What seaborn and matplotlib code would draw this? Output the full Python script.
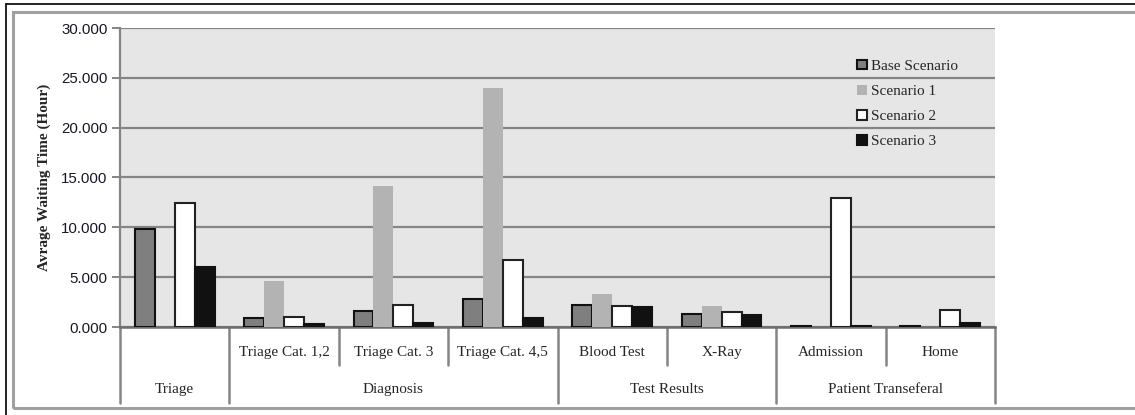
import numpy as np
import pandas as pd
import seaborn as sns
import matplotlib.pyplot as plt
from matplotlib.lines import Line2D
from matplotlib.patches import Rectangle
from matplotlib.ticker import FuncFormatter

# Data (hours)
items = ['Triage', 'Triage Cat. 1,2', 'Triage Cat. 3', 'Triage Cat. 4,5',
         'Blood Test', 'X-Ray', 'Admission', 'Home']
groups = ['Triage', 'Diagnosis', 'Test Results', 'Patient Transeferal']
group_sizes = [1, 3, 2, 2]
scenarios = ['Base Scenario', 'Scenario 1', 'Scenario 2', 'Scenario 3']

base = [9.83, 0.90, 1.60, 2.80, 2.20, 1.30, 0.15, 0.15]
scen1 = [0.0, 4.60, 14.10, 24.00, 3.30, 2.10, 0.0, 0.0]
scen2 = [12.44, 1.00, 2.20, 6.70, 2.10, 1.50, 12.90, 1.70]
scen3 = [6.00, 0.30, 0.40, 0.90, 2.00, 1.20, 0.10, 0.40]

df = pd.DataFrame({
    'item': items * 4,
    'hours': base + scen1 + scen2 + scen3,
    'scenario': np.repeat(scenarios, len(items)),
})

fills = ['#7f7f7f', '#b3b3b3', '#ffffff', '#111111']
edges = ['#111111', '#b3b3b3', '#222222', '#111111']
edge_w = [1.5, 0, 1.5, 1.5]

serif = 'Liberation Serif'
grid_c = '#858585'

sns.set_style('white')
fig = plt.figure(figsize=(11.35, 4.15), dpi=100)
ax = fig.add_axes([120 / 1135, 1 - 327 / 415, 875 / 1135, 299 / 415])
ax.set_facecolor('#e6e6e6')

sns.barplot(data=df, x='item', y='hours', hue='scenario', order=items,
            hue_order=scenarios, palette=fills, saturation=1, width=0.73,
            legend=False, ax=ax, zorder=3)

for cont, ec, lw in zip(ax.containers, edges, edge_w):
    for p in cont.patches:
        p.set_edgecolor(ec)
        p.set_linewidth(lw)

ax.set_ylim(0, 30)
ax.set_xlim(-0.5, len(items) - 0.5)
ax.set_yticks(np.arange(0, 31, 5))
ax.yaxis.set_major_formatter(FuncFormatter(lambda v, _: f'{v:.3f}'))
ax.grid(axis='y', color=grid_c, linewidth=1.6, zorder=0)
ax.set_axisbelow(True)
ax.tick_params(axis='y', length=6, width=1.4, color=grid_c, pad=3,
               labelsize=10.8, labelcolor='#161626', left=True)
for lab in ax.get_yticklabels():
    lab.set_family('Liberation Sans')
ax.set_xticks([])
ax.set_xlabel('')
ax.set_ylabel('Avrage Waiting Time (Hour)', fontfamily=serif, fontweight='bold',
              fontsize=11, labelpad=7)

for s in ['top', 'right']:
    ax.spines[s].set_visible(False)
ax.spines['left'].set_color(grid_c)
ax.spines['left'].set_linewidth(1.6)
ax.spines['bottom'].set_color('#6e6e6e')
ax.spines['bottom'].set_linewidth(1.8)

# category table below the axis
trans = ax.get_xaxis_transform()
row1 = -38 / 299
row2 = -76 / 299
edges_x = np.cumsum([0] + group_sizes) - 0.5
for xb in edges_x:
    ax.add_line(Line2D([xb, xb], [0, row2], transform=trans, color=grid_c,
                       lw=1.8, clip_on=False))
start = 0
for g, n in zip(groups, group_sizes):
    for k in range(1, n):
        xb = start + k - 0.5
        ax.add_line(Line2D([xb, xb], [0, row1], transform=trans, color=grid_c,
                           lw=1.8, clip_on=False))
    ax.text(start + (n - 1) / 2, -62 / 299, g, transform=trans, ha='center',
            va='center', fontfamily=serif, fontsize=11)
    if n > 1:
        for k in range(n):
            ax.text(start + k, -25 / 299, items[start + k], transform=trans,
                    ha='center', va='center', fontfamily=serif, fontsize=11)
    start += n

ax.legend(handles=ax.containers, labels=scenarios, loc='upper left',
          bbox_to_anchor=(0.827, 0.94), frameon=False,
          prop={'family': serif, 'size': 11}, handlelength=0.6,
          handleheight=0.6, handletextpad=0.3, labelspacing=0.78)

# outer frames
fig.add_artist(Rectangle((13 / 1135, 1 - 408 / 415), 1.2, (408 - 12) / 415,
                         transform=fig.transFigure, fill=False,
                         edgecolor='#a0a0a0', lw=2.2, clip_on=False))
fig.add_artist(Line2D([6 / 1135, 1], [1 - 4 / 415] * 2, transform=fig.transFigure,
                      color='black', lw=1.2))
fig.add_artist(Line2D([6 / 1135] * 2, [0, 1 - 4 / 415], transform=fig.transFigure,
                      color='black', lw=1.2))

fig.savefig('out.png', dpi=100)
